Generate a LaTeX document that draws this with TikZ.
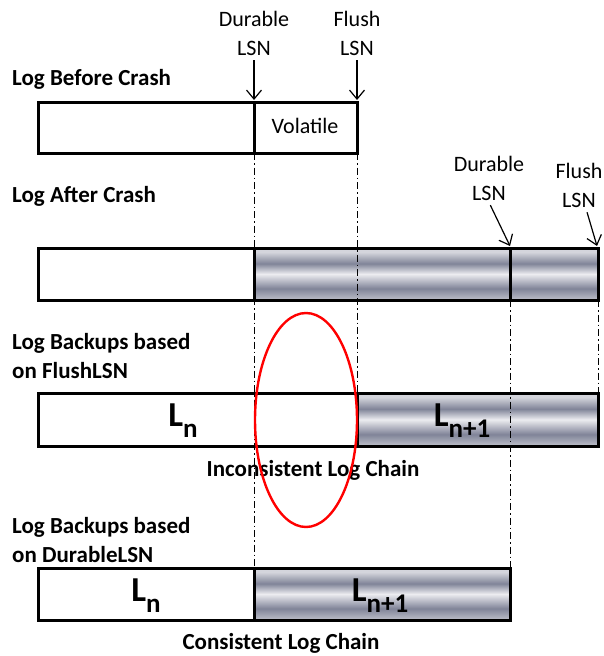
\documentclass[tikz,border=0pt]{standalone}
\usepackage{fontspec}
\setmainfont{Carlito}
\usepackage{tikz}
\usetikzlibrary{arrows.meta,shapes.geometric}

\definecolor{barDark}{RGB}{128,132,152}
\definecolor{barMid}{RGB}{190,192,202}
\definecolor{barLight}{RGB}{212,213,220}
\definecolor{barWhite}{RGB}{236,236,240}
\pgfdeclareverticalshading{logbar}{100bp}{color(0bp)=(barMid); color(25bp)=(barMid); color(36bp)=(barDark); color(50bp)=(barWhite); color(60bp)=(barDark); color(71bp)=(barLight); color(75bp)=(barLight); color(100bp)=(barLight)}

\newcommand{\logseg}[1]{L\raisebox{-11pt}{\fontsize{27}{30}\selectfont #1}}

\begin{document}
\begin{tikzpicture}[x=1pt,y=-1pt]
\tikzset{title/.style={anchor=west,align=left,inner sep=0pt,font=\fontsize{23}{29}\selectfont\bfseries}}
\tikzset{lsn/.style={align=center,inner sep=2pt,font=\fontsize{22}{29}\selectfont}}
\tikzset{logbox/.style={draw,line width=3pt}}
\tikzset{bar/.style={shading=logbar}}
\tikzset{guide/.style={line width=0.9pt,dash pattern=on 7pt off 3pt on 1.5pt off 3pt}}
\tikzset{lsnarrow/.style={line width=1.2pt,-{Straight Barb[length=9pt,width=15pt]},shorten <=3pt}}
\tikzset{chain/.style={font=\fontsize{23}{27}\selectfont\bfseries}}
\tikzset{segname/.style={anchor=base,font=\fontsize{35}{40}\selectfont\bfseries}}
\useasboundingbox (0,0) rectangle (604,656);

% where the arrows land
\coordinate (durTop) at (254,100);
\coordinate (flushTop) at (357,100);
\coordinate (durTop2) at (510,246);
\coordinate (flushTop2) at (597,246);

% shaded parts
\shade[bar] (254,248) rectangle (598,300);
\shade[bar] (357,393) rectangle (598,446);
\shade[bar] (254,568) rectangle (510,620);

% dash-dot guides
\draw[guide] (254,153) -- (254,568);
\draw[guide] (357,153) -- (357,393);
\draw[guide] (510,300) -- (510,568);
\draw[guide] (598,300) -- (598,393);

% log before crash
\node[title] (before) at (12,79) {Log Before Crash};
\draw[logbox] (38,102) rectangle (357,153);
\draw[logbox] (254,102) -- (254,153);
\node[lsn] (volatile) at (305,126) {Volatile};
\node[lsn] (durA) at (254,33) {Durable\\LSN};
\node[lsn] (flushA) at (357,33) {Flush\\LSN};
\draw[lsnarrow] (durA.south) -- (durTop);
\draw[lsnarrow] (flushA.south) -- (flushTop);

% log after crash
\node[title] (after) at (12,196) {Log After Crash};
\draw[logbox] (38,248) rectangle (598,300);
\draw[logbox] (254,248) -- (254,300);
\draw[logbox] (510,248) -- (510,300);
\node[lsn] (durB) at (489,178) {Durable\\LSN};
\node[lsn] (flushB) at (579,185) {Flush\\LSN};
\draw[lsnarrow] (durB.south) -- (durTop2);
\draw[lsnarrow] (flushB) -- (flushTop2);

% backups on FlushLSN
\node[title] (onflush) at (12,356) {Log Backups based\\on FlushLSN};
\draw[logbox] (38,393) rectangle (598,446);
\draw[logbox] (357,393) -- (357,446);
\node[segname] (ln3) at (183,426) {\logseg{n}};
\node[segname] (lnext3) at (462,426) {\logseg{n+1}};
\node[chain] (incons) at (313,470) {Inconsistent Log Chain};

% backups on DurableLSN
\node[title] (ondurable) at (12,540) {Log Backups based\\on DurableLSN};
\draw[logbox] (38,568) rectangle (510,620);
\draw[logbox] (254,568) -- (254,620);
\node[segname] (ln4) at (146,601) {\logseg{n}};
\node[segname] (lnext4) at (380,601) {\logseg{n+1}};
\node[chain] (cons) at (281,643) {Consistent Log Chain};

% the gap
\node[draw=red,line width=2.4pt,ellipse,inner sep=0pt,minimum width=102pt,minimum height=214pt] (gap) at (306,420) {};
\end{tikzpicture}
\end{document}
